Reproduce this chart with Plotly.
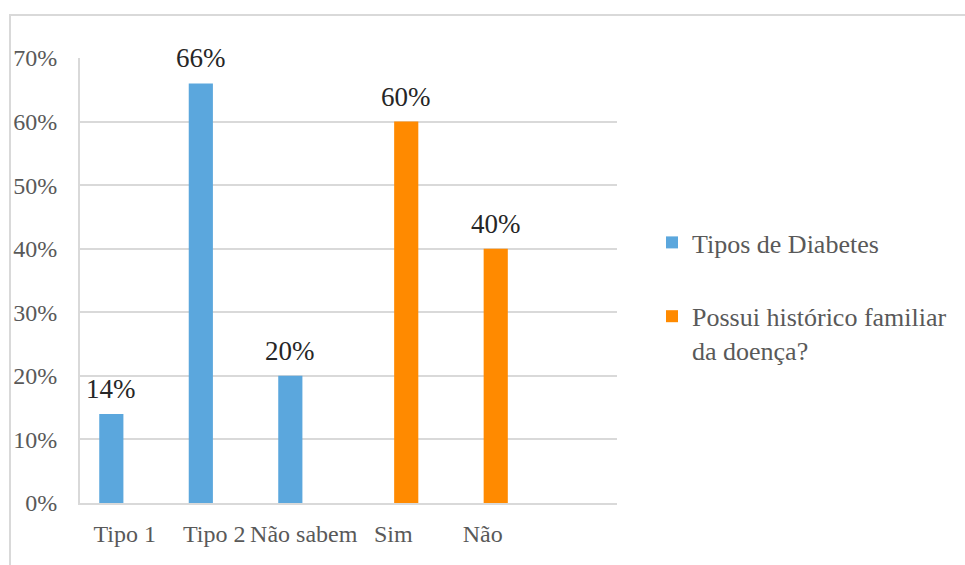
import plotly.graph_objects as go

categories = ["Tipo 1", "Tipo 2", "Não sabem", "Sim", "Não"]
tipos_diabetes = [14, 66, 20, None, None]
historico_familiar = [None, None, None, 60, 40]
y_ticks = [0, 10, 20, 30, 40, 50, 60, 70]
y_tick_labels = ["0%", "10%", "20%", "30%", "40%", "50%", "60%", "70%"]

series_names = ["Tipos de Diabetes", "Possui histórico familiar<br>da doença?"]
colors = ["#5BA7DD", "#FF8A00"]

W, H = 965, 565
L, R, T, B = 80, 348, 58, 62
FONT = "'Liberation Serif', 'Times New Roman', 'DejaVu Serif', serif"

x_pos = list(range(len(categories)))
bar_w = 0.27
offsets = [-0.285, 0.01]

fig = go.Figure()
for name, vals, col, off, grp in zip(series_names, [tipos_diabetes, historico_familiar], colors, offsets, ["a", "b"]):
    fig.add_trace(go.Bar(
        x=x_pos, y=vals, name=name, marker=dict(color=col, line=dict(width=0)),
        width=bar_w, offset=off, legendgroup=grp,
    ))
    for xi, v in zip(x_pos, vals):
        if v is None:
            continue
        fig.add_annotation(
            x=xi + off + bar_w / 2, y=v, xref="x", yref="y",
            text=f"{v}%", showarrow=False, yanchor="bottom", yshift=8,
            font=dict(family=FONT, size=27, color="#262626"),
        )

pw = W - L - R
ph = H - T - B
# outer light border
fig.add_shape(type="rect", xref="paper", yref="paper",
              x0=(10 - L) / pw, x1=(W + 20 - L) / pw,
              y0=-(H + 20 - T - ph) / ph, y1=1 + (T - 15) / ph,
              line=dict(color="#d9d9d9", width=2), layer="below")

fig.update_layout(
    width=W, height=H,
    margin=dict(l=L, r=R, t=T, b=B, pad=0),
    paper_bgcolor="white", plot_bgcolor="white",
    barmode="overlay",
    showlegend=True,
    font=dict(family=FONT),
    legend=dict(
        x=(652 - L) / pw, y=1 - (219 - T) / ph, xanchor="left", yanchor="top",
        font=dict(family=FONT, size=26, color="#595959"),
        traceorder="grouped", tracegroupgap=37, valign="top",
        bgcolor="rgba(0,0,0,0)",
    ),
    xaxis=dict(
        range=[-0.5, 5.5], tickmode="array", tickvals=x_pos, ticktext=categories,
        showgrid=False, zeroline=False, showline=True, linecolor="#d9d9d9", linewidth=2,
        ticks="", ticklabelstandoff=8,
        tickfont=dict(family=FONT, size=24, color="#595959"),
    ),
    yaxis=dict(
        range=[0, 70], tickmode="array", tickvals=y_ticks, ticktext=y_tick_labels,
        showgrid=True, gridcolor="#d9d9d9", gridwidth=1.5, zeroline=False,
        showline=True, linecolor="#d9d9d9", linewidth=2, ticks="",
        ticklabelstandoff=16,
        tickfont=dict(family=FONT, size=24, color="#595959"),
    ),
)

fig.write_html("out.html")
